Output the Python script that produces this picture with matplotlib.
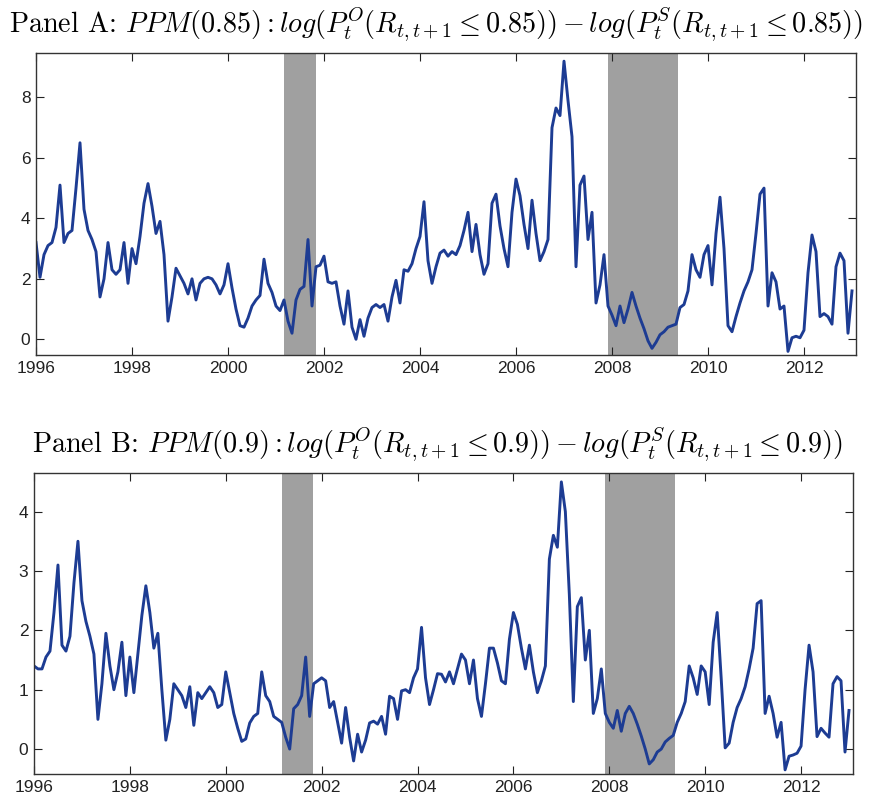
import matplotlib
matplotlib.use("Agg")
import matplotlib.pyplot as plt
import numpy as np

plt.rcParams['mathtext.fontset'] = 'cm'
plt.rcParams['font.family'] = ['Liberation Sans', 'DejaVu Sans']

# monthly series, Jan 1996 onwards
ppm_085 = [
    3.2, 2.05, 2.8, 3.1, 3.2, 3.7, 5.1, 3.2, 3.5, 3.6, 5.0, 6.5,
    4.3, 3.6, 3.3, 2.9, 1.4, 2.0, 3.2, 2.3, 2.15, 2.3, 3.2, 1.85,
    3.0, 2.5, 3.4, 4.5, 5.15, 4.4, 3.5, 3.9, 2.8, 0.6, 1.4, 2.35,
    2.1, 1.85, 1.5, 2.0, 1.3, 1.85, 2.0, 2.05, 2.0, 1.8, 1.5, 1.8,
    2.5, 1.7, 1.0, 0.45, 0.4, 0.7, 1.1, 1.3, 1.45, 2.65, 1.85, 1.55,
    1.1, 0.95, 1.3, 0.6, 0.2, 1.3, 1.65, 1.75, 3.3, 1.1, 2.4, 2.45,
    2.75, 1.9, 1.85, 1.9, 1.1, 0.5, 1.6, 0.4, 0.0, 0.65, 0.1, 0.7,
    1.05, 1.15, 1.05, 1.15, 0.6, 1.4, 1.95, 1.2, 2.3, 2.25, 2.5, 3.0,
    3.4, 4.55, 2.6, 1.85, 2.4, 2.85, 2.95, 2.75, 2.9, 2.8, 3.1, 3.6,
    4.2, 2.9, 3.8, 2.8, 2.15, 2.5, 4.5, 4.8, 3.75, 3.0, 2.4, 4.2,
    5.3, 4.75, 3.8, 3.0, 4.6, 3.5, 2.6, 2.9, 3.3, 7.0, 7.65, 7.4,
    9.2, 7.9, 6.7, 2.4, 5.1, 5.4, 3.3, 4.2, 1.2, 1.8, 2.8, 1.1,
    0.8, 0.45, 1.1, 0.55, 1.0, 1.55, 1.1, 0.7, 0.35, -0.05, -0.3, -0.1,
    0.15, 0.25, 0.4, 0.45, 0.5, 1.05, 1.15, 1.6, 2.8, 2.3, 2.05, 2.8,
    3.1, 1.8, 3.5, 4.7, 3.0, 0.45, 0.25, 0.75, 1.2, 1.6, 1.9, 2.3,
    3.5, 4.8, 5.0, 1.1, 2.2, 1.9, 1.0, 1.1, -0.4, 0.05, 0.1, 0.05,
    0.3, 2.2, 3.45, 2.9, 0.75, 0.85, 0.75, 0.5, 2.4, 2.85, 2.6, 0.2, 1.6,
]

ppm_090 = [
    1.4, 1.35, 1.35, 1.55, 1.65, 2.3, 3.1, 1.75, 1.65, 1.9, 2.8, 3.5,
    2.5, 2.15, 1.9, 1.6, 0.5, 1.1, 1.95, 1.4, 1.0, 1.3, 1.8, 0.9,
    1.55, 0.95, 1.6, 2.25, 2.75, 2.3, 1.7, 1.95, 1.0, 0.15, 0.5, 1.1,
    1.0, 0.9, 0.7, 1.05, 0.4, 0.95, 0.85, 0.95, 1.05, 0.95, 0.7, 0.75,
    1.3, 0.95, 0.6, 0.35, 0.13, 0.17, 0.44, 0.55, 0.6, 1.3, 0.9, 0.8,
    0.55, 0.5, 0.45, 0.2, 0.0, 0.68, 0.75, 0.9, 1.55, 0.55, 1.1, 1.15,
    1.2, 1.15, 0.7, 0.8, 0.45, 0.1, 0.7, 0.2, -0.2, 0.25, -0.05, 0.15,
    0.44, 0.47, 0.42, 0.55, 0.25, 0.89, 0.85, 0.5, 0.98, 1.0, 0.95, 1.2,
    1.35, 2.05, 1.2, 0.75, 1.0, 1.27, 1.26, 1.13, 1.3, 1.1, 1.35, 1.6,
    1.5, 1.1, 1.5, 0.85, 0.55, 1.1, 1.7, 1.7, 1.45, 1.15, 1.1, 1.85,
    2.3, 2.1, 1.7, 1.35, 1.75, 1.3, 0.95, 1.15, 1.4, 3.2, 3.6, 3.4,
    4.5, 4.0, 2.6, 0.8, 2.4, 2.55, 1.5, 2.0, 0.6, 0.85, 1.35, 0.6,
    0.45, 0.35, 0.65, 0.3, 0.6, 0.72, 0.6, 0.42, 0.22, 0.0, -0.25, -0.18,
    -0.05, 0.0, 0.12, 0.18, 0.23, 0.45, 0.6, 0.8, 1.4, 1.2, 0.92, 1.4,
    1.3, 0.75, 1.8, 2.3, 1.2, 0.02, 0.1, 0.45, 0.7, 0.85, 1.05, 1.35,
    1.7, 2.45, 2.5, 0.6, 0.89, 0.6, 0.2, 0.45, -0.35, -0.12, -0.1, -0.07,
    0.05, 1.0, 1.75, 1.3, 0.21, 0.35, 0.27, 0.2, 1.1, 1.22, 1.15, -0.05, 0.65,
]

recessions = [(2001.17, 2001.83), (2007.92, 2009.38)]
year_ticks = [1996, 1998, 2000, 2002, 2004, 2006, 2008, 2010, 2012]

title_a = (r"Panel A: $PPM(0.85) : log(P_t^O(R_{t,t+1} \leq 0.85))"
           r" - log(P_t^S(R_{t,t+1} \leq 0.85))$")
title_b = (r"Panel B: $PPM(0.9) : log(P_t^O(R_{t,t+1} \leq 0.9))"
           r" - log(P_t^S(R_{t,t+1} \leq 0.9))$")


def draw_panel(ax, values, ylim, yticks):
    years = 1996 + np.arange(len(values)) / 12
    for start, end in recessions:
        ax.axvspan(start, end, color="#a0a0a0", lw=0, zorder=0)
    ax.plot(years, values, color="#1d3c93", lw=2.1, zorder=2)
    ax.set_xlim(1996, 1996 + len(values) / 12)
    ax.set_ylim(ylim)
    ax.set_xticks(year_ticks)
    ax.set_yticks(yticks)
    ax.tick_params(direction="in", top=True, right=True, length=6,
                   labelsize=12.5, pad=4, colors="#222222")
    for s in ax.spines.values():
        s.set_color("#333333")
        s.set_linewidth(1.0)


fig = plt.figure(figsize=(8.72, 8.08), dpi=100)
ax1 = fig.add_axes([36 / 872, 1 - 355 / 808, 820 / 872, 302 / 808])
ax2 = fig.add_axes([34 / 872, 1 - 774 / 808, 819 / 872, 301 / 808])

draw_panel(ax1, ppm_085, (-0.52, 9.47), [0, 2, 4, 6, 8])
draw_panel(ax2, ppm_090, (-0.42, 4.65), [0, 1, 2, 3, 4])

fig.text(0.5, 1 - 24 / 808, title_a, ha="center", va="center",
         fontsize=20.3, family="cmr10")
fig.text(0.502, 1 - 444 / 808, title_b, ha="center", va="center",
         fontsize=20.3, family="cmr10")

fig.savefig("out.png", dpi=100)
